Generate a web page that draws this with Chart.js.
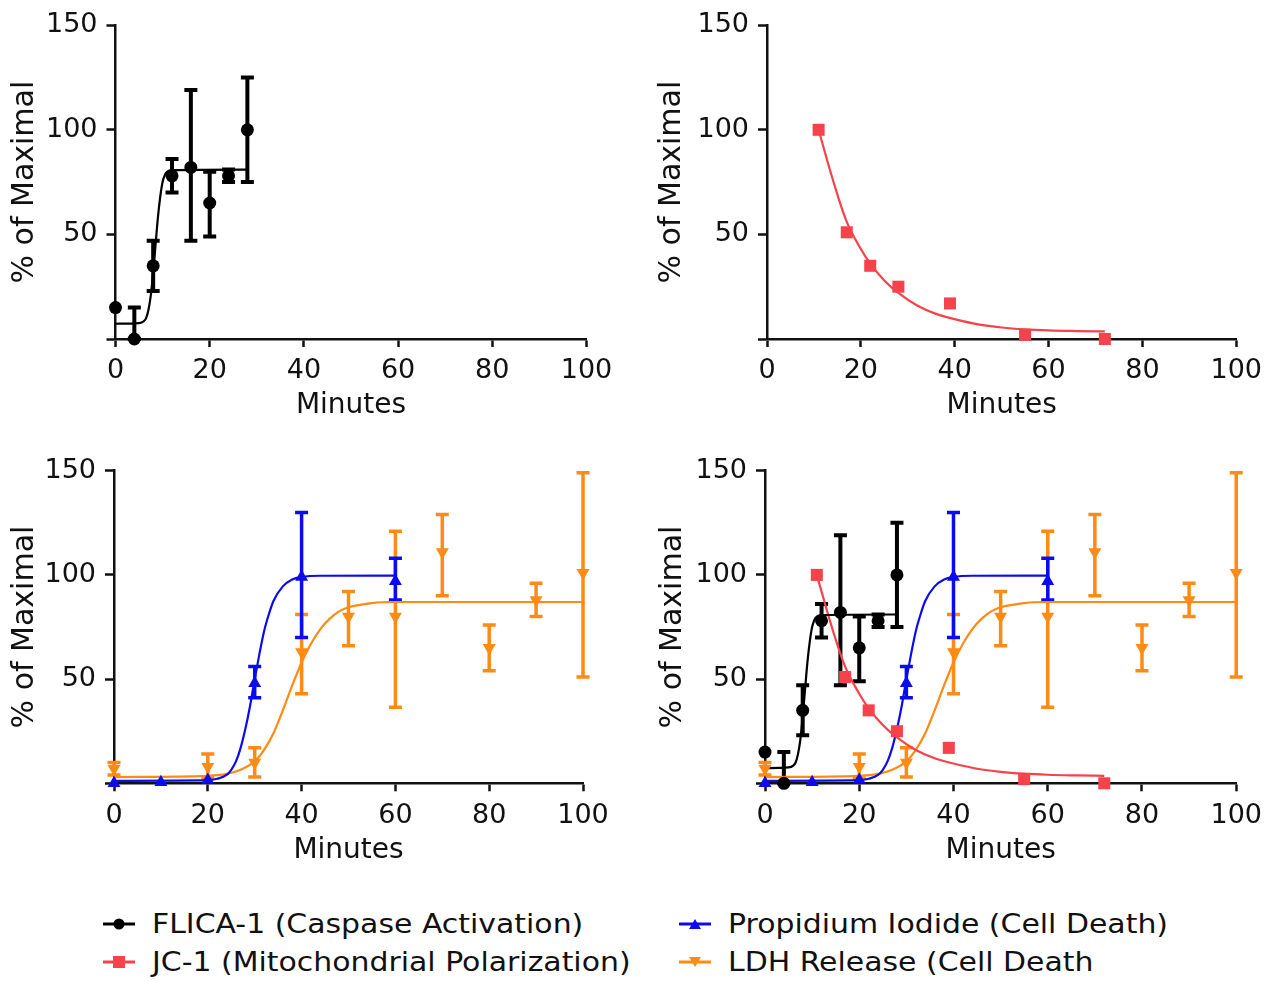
<!DOCTYPE html>
<html>
<head>
<meta charset="utf-8">
<script src="https://cdn.jsdelivr.net/npm/chart.js@4.4.1/dist/chart.umd.min.js"></script>
<style>
  body { margin: 0; background: #fff; }
  #wrap { position: relative; width: 1271px; height: 981px; font-family: 'DejaVu Sans', sans-serif; }
  canvas { position: absolute; }
  .leg { position: absolute; height: 36px; display: flex; align-items: center; white-space: nowrap; }
  .leg svg { flex: none; }
  .leg span { display: inline-block; font-size: 26px; color: #111; transform: scaleX(1.15); transform-origin: left center; margin-left: 17px; }
</style>
</head>
<body>
<div id="wrap">
  <canvas id="c1" width="630" height="440" style="left:0;top:0"></canvas>
  <canvas id="c2" width="620" height="440" style="left:650px;top:0"></canvas>
  <canvas id="c3" width="630" height="440" style="left:0;top:440px"></canvas>
  <canvas id="c4" width="620" height="440" style="left:650px;top:440px"></canvas>
  <div id="legend"></div>
</div>
<script>
// FLICA-1 (caspase activation)
const flicaX  = [0, 4, 8, 12, 16, 20, 24, 28];
const flicaY  = [15, 0, 35, 78, 82, 65, 78, 100];
const flicaHi = [15, 15, 47, 86, 119, 80, 81, 125];
const flicaLo = [15, 0, 23, 70, 47, 49, 75, 75];
const flicaFitX = [0, 5, 6, 6.5, 7, 7.5, 8, 8.5, 9, 9.5, 10, 10.5, 11, 12, 28];
const flicaFitY = [7.3, 7.6, 8.5, 10, 14, 21, 32, 45, 58, 68, 75, 78.5, 80, 80.7, 81];

// JC-1 (mitochondrial polarization)
const jcX = [11, 17, 22, 28, 39, 55, 72];
const jcY = [100, 51, 35, 25, 17, 2, 0];
const jcFitX = [11, 13, 15, 17, 20, 22, 25, 28, 32, 36, 40, 45, 50, 55, 60, 66, 72];
const jcFitY = [100, 84, 69, 56, 43, 36, 28, 22, 16, 12, 9.5, 7, 5.5, 4.6, 4.1, 3.8, 3.6];

// Propidium iodide (cell death)
const piX  = [0, 10, 20, 30, 40, 60];
const piY  = [0, 0.5, 1.6, 48, 99, 97];
const piHi = [0, 0.5, 1.6, 56, 130, 108];
const piLo = [0, 0.5, 1.6, 41, 70, 88];
const piFitX = [0, 20, 22, 24, 25, 26, 27, 28, 29, 30, 31, 32, 33, 34, 36, 38, 40, 44, 60];
const piFitY = [1.2, 1.5, 2.2, 4, 6.5, 10.5, 17, 26, 37, 50, 62, 73, 81, 87.5, 94.5, 97.8, 99, 99.6, 99.7];

// LDH release (cell death)
const ldhX  = [0, 20, 30, 40, 50, 60, 70, 80, 90, 100];
const ldhY  = [7, 8, 10, 63, 80, 80, 111, 65, 88, 101];
const ldhHi = [10, 14, 17, 81, 92, 121, 129, 76, 96, 149];
const ldhLo = [4, 2.5, 3, 43, 66, 36.5, 90, 54, 80, 51];
const ldhFitX = [0, 20, 24, 27, 30, 32, 34, 36, 38, 40, 42, 44, 46, 48, 50, 55, 60, 100];
const ldhFitY = [3, 3.6, 4.5, 6.5, 10.5, 16, 24, 35, 47, 58, 67, 74, 79, 82.5, 84.5, 86.5, 87, 87];

const xTicks = [0, 20, 40, 60, 80, 100];
const yTicks = [50, 100, 150];

const BLACK = '#000000', RED = '#f5424b', BLUE = '#0b0bef', ORANGE = '#ff8a14';
const FAM = "'DejaVu Sans', sans-serif";

const series = {
  flica: { label: 'FLICA-1 (Caspase Activation)', x: flicaX, y: flicaY, hi: flicaHi, lo: flicaLo, fx: flicaFitX, fy: flicaFitY, color: BLACK, style: 'circle', r: 6.5, rot: 0, ew: 4 },
  jc:    { label: 'JC-1 (Mitochondrial Polarization)', x: jcX, y: jcY, hi: null, lo: null, fx: jcFitX, fy: jcFitY, color: RED, style: 'rect', r: 8.5, rot: 0, ew: 3 },
  pi:    { label: 'Propidium Iodide (Cell Death)', x: piX, y: piY, hi: piHi, lo: piLo, fx: piFitX, fy: piFitY, color: BLUE, style: 'triangle', r: 7.5, rot: 0, ew: 3.5 },
  ldh:   { label: 'LDH Release (Cell Death', x: ldhX, y: ldhY, hi: ldhHi, lo: ldhLo, fx: ldhFitX, fy: ldhFitY, color: ORANGE, style: 'triangle', r: 7.5, rot: 180, ew: 3.5 }
};

// draws error bars from dataset.errHi / dataset.errLo through the chart scales
// (first dataset ends up on top, same as chart.js's own draw order)
const errorBarPlugin = {
  id: 'errorBars',
  beforeDatasetsDraw(chart) {
    const ctx = chart.ctx;
    const xs = chart.scales.x, ys = chart.scales.y;
    const list = chart.data.datasets.slice().reverse();
    list.forEach(ds => {
      if (!ds.errHi) return;
      ctx.save();
      ctx.strokeStyle = ds.borderColor;
      ctx.lineWidth = ds.errWidth;
      ds.data.forEach((p, j) => {
        const px = xs.getPixelForValue(p.x);
        const top = ys.getPixelForValue(ds.errHi[j]);
        const bot = ys.getPixelForValue(ds.errLo[j]);
        if (Math.abs(bot - top) < 1) return;
        ctx.beginPath();
        ctx.moveTo(px, top); ctx.lineTo(px, bot);
        ctx.moveTo(px - 6.5, top); ctx.lineTo(px + 6.5, top);
        ctx.moveTo(px - 6.5, bot); ctx.lineTo(px + 6.5, bot);
        ctx.stroke();
      });
      ctx.restore();
    });
  }
};

function pointSet(s) {
  return {
    data: s.x.map((v, i) => ({ x: v, y: s.y[i] })),
    showLine: false,
    pointStyle: s.style,
    pointRadius: s.r,
    pointRotation: s.rot,
    backgroundColor: s.color,
    borderColor: s.color,
    pointBorderWidth: 0,
    errHi: s.hi,
    errLo: s.lo,
    errWidth: s.ew,
    clip: false
  };
}

function fitSet(s) {
  return {
    data: s.fx.map((v, i) => ({ x: v, y: s.fy[i] })),
    showLine: true,
    pointRadius: 0,
    borderColor: s.color,
    borderWidth: 2.2,
    cubicInterpolationMode: 'monotone',
    clip: false
  };
}

function makeChart(id, keys, lay) {
  const pts = keys.map(k => pointSet(series[k]));
  const fits = keys.map(k => fitSet(series[k]));
  return new Chart(document.getElementById(id), {
    type: 'scatter',
    data: { datasets: pts.concat(fits) },
    options: {
      responsive: false,
      animation: false,
      devicePixelRatio: 1,
      layout: { padding: { left: 0, top: lay.top, right: lay.right, bottom: 0 } },
      plugins: { legend: { display: false }, tooltip: { enabled: false } },
      scales: {
        x: {
          type: 'linear', min: 0, max: 100,
          afterBuildTicks: sc => { sc.ticks = xTicks.map(v => ({ value: v })); },
          ticks: { color: '#111', font: { family: FAM, size: 27 }, padding: 8, maxRotation: 0 },
          grid: { drawOnChartArea: false, drawTicks: true, tickLength: 8, tickWidth: 2.5, tickColor: '#111' },
          border: { display: true, color: '#111', width: 2.5 },
          title: { display: true, text: 'Minutes', color: '#111', font: { family: FAM, size: 28 }, padding: { top: 0, bottom: lay.xTitle } },
          afterFit: sc => { sc.height = lay.xh; }
        },
        y: {
          type: 'linear', min: 0, max: 150,
          afterBuildTicks: sc => { sc.ticks = [0].concat(yTicks).map(v => ({ value: v })); },
          ticks: { color: '#111', font: { family: FAM, size: 27 }, padding: 9, callback: v => (v === 0 ? '' : v) },
          grid: { drawOnChartArea: false, drawTicks: true, tickLength: 9, tickWidth: 2.5, tickColor: '#111' },
          border: { display: true, color: '#111', width: 2.5 },
          title: { display: true, text: '% of Maximal', color: '#111', font: { family: FAM, size: 30 }, padding: { top: lay.yTitle, bottom: 0 } },
          afterFit: sc => { sc.width = lay.yw; }
        }
      }
    },
    plugins: [errorBarPlugin]
  });
}

makeChart('c1', ['flica'], { top: 23, right: 43.5, xh: 101, yw: 115.5, xTitle: 17, yTitle: 7 });
makeChart('c2', ['jc'], { top: 23, right: 33.3, xh: 101, yw: 117, xTitle: 17, yTitle: 4 });
makeChart('c3', ['pi', 'ldh'], { top: 30.7, right: 47, xh: 96.7, yw: 114, xTitle: 12, yTitle: 7 });
makeChart('c4', ['flica', 'jc', 'pi', 'ldh'], { top: 30.7, right: 33.3, xh: 96.7, yw: 115, xTitle: 12, yTitle: 5 });

// legend (html text, svg icons)
function icon(s) {
  const c = s.color;
  let m;
  if (s.style === 'circle') m = `<circle cx="16" cy="10" r="5.5" fill="${c}"/>`;
  else if (s.style === 'rect') m = `<rect x="10" y="4" width="12" height="12" fill="${c}"/>`;
  else if (s.rot === 180) m = `<polygon points="10,5 22,5 16,15" fill="${c}"/>`;
  else m = `<polygon points="10,15 22,15 16,5" fill="${c}"/>`;
  return `<svg width="32" height="20"><line x1="0" y1="10" x2="32" y2="10" stroke="${c}" stroke-width="3"/>${m}</svg>`;
}
const legendPos = [
  ['flica', 103, 906], ['jc', 103, 944],
  ['pi', 679, 906], ['ldh', 679, 944]
];
const legEl = document.getElementById('legend');
legendPos.forEach(([k, x, y]) => {
  const d = document.createElement('div');
  d.className = 'leg';
  d.style.left = x + 'px';
  d.style.top = y + 'px';
  d.innerHTML = icon(series[k]) + `<span>${series[k].label}</span>`;
  legEl.appendChild(d);
});
</script>
</body>
</html>
